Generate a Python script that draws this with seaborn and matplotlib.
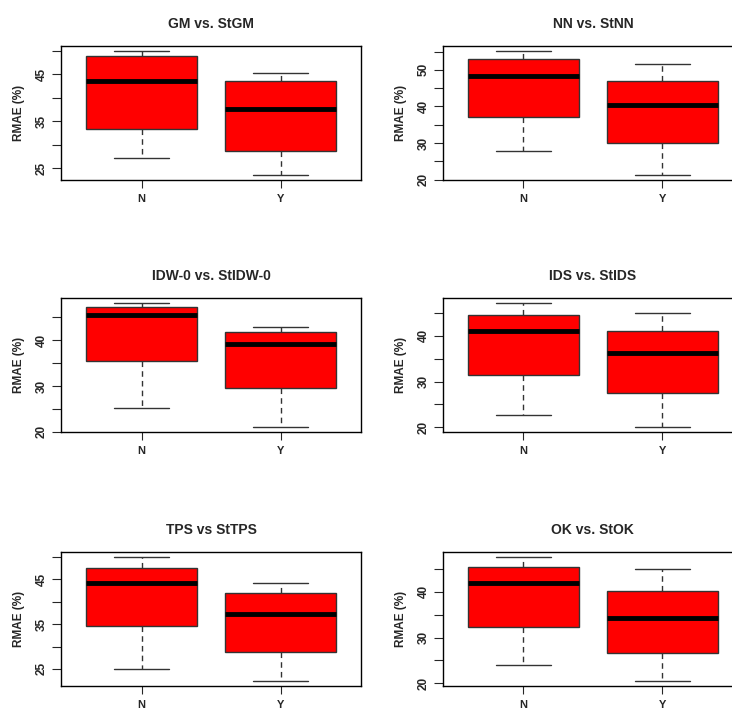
import numpy as np
import pandas as pd
import seaborn as sns
import matplotlib
matplotlib.use("Agg")
import matplotlib.pyplot as plt
from matplotlib.ticker import MultipleLocator, FuncFormatter

# five-number summaries (min, q1, median, q3, max)
titles = ["GM vs. StGM", "NN vs. StNN", "IDW-0 vs. StIDW-0",
          "IDS vs. StIDS", "TPS vs StTPS", "OK vs. StOK"]
groups = ["N", "Y"]

gm_n = [27.2, 33.3, 43.6, 48.8, 50.0]
gm_y = [23.6, 28.6, 37.7, 43.6, 45.3]
nn_n = [27.9, 37.1, 48.4, 53.0, 55.2]
nn_y = [21.3, 30.0, 40.4, 47.0, 51.5]
idw_n = [25.1, 35.4, 45.5, 47.1, 48.0]
idw_y = [21.0, 29.5, 39.2, 41.7, 42.9]
ids_n = [22.7, 31.5, 41.0, 44.6, 47.1]
ids_y = [20.0, 27.6, 36.2, 41.0, 44.9]
tps_n = [25.0, 34.5, 44.2, 47.5, 50.0]
tps_y = [22.3, 28.7, 37.3, 41.9, 44.2]
ok_n = [23.9, 32.3, 41.8, 45.5, 47.6]
ok_y = [20.5, 26.7, 34.2, 40.2, 44.9]

series = [(gm_n, gm_y), (nn_n, nn_y), (idw_n, idw_y),
          (ids_n, ids_y), (tps_n, tps_y), (ok_n, ok_y)]

# which y ticks carry a label (R drops the ones that would overlap)
labelled = [[25, 35, 45], [20, 30, 40, 50], [20, 30, 40],
            [20, 30, 40], [25, 35, 45], [20, 30, 40]]

sns.set_style("white")
plt.rcParams['font.family'] = ['Liberation Sans', 'DejaVu Sans']
plt.rcParams['font.weight'] = 'bold'

fig = plt.figure(figsize=(7.32, 7.11), dpi=100)

lefts = [0.0833, 0.605]
bottoms = [0.747, 0.392, 0.0352]
w, h = 0.41, 0.1885

for i, (title, (n_vals, y_vals)) in enumerate(zip(titles, series)):
    row, col = divmod(i, 2)
    ax = fig.add_axes([lefts[col], bottoms[row], w, h])
    df = pd.DataFrame({
        "group": [groups[0]] * len(n_vals) + [groups[1]] * len(y_vals),
        "value": n_vals + y_vals,
    })
    sns.boxplot(data=df, x="group", y="value", ax=ax, color="red",
                saturation=1, width=0.8, linecolor="#333333", linewidth=1,
                medianprops=dict(color="black", linewidth=3.5),
                whiskerprops=dict(linestyle=(0, (4, 3)), linewidth=1),
                capprops=dict(linewidth=1))

    lo = min(n_vals + y_vals)
    hi = max(n_vals + y_vals)
    pad = 0.04 * (hi - lo)
    ax.set_ylim(lo - pad, hi + pad)
    ax.set_xlim(-0.58, 1.58)

    lab = labelled[i]
    ax.yaxis.set_major_locator(MultipleLocator(5))
    ax.yaxis.set_major_formatter(
        FuncFormatter(lambda v, p, lab=lab: f"{v:.0f}" if round(v) in lab else ""))

    ax.tick_params(axis="y", direction="out", length=6.5, width=0.8,
                   labelsize=8.5, pad=3, left=True)
    ax.tick_params(axis="x", direction="out", length=6, width=0.8,
                   labelsize=8, pad=4, bottom=True)
    for t in ax.get_yticklabels():
        t.set_rotation(90)
        t.set_va("center")
        t.set_fontweight("bold")
    for t in ax.get_xticklabels():
        t.set_fontweight("bold")

    for s in ax.spines.values():
        s.set_visible(True)
        s.set_color("black")
        s.set_linewidth(1)

    ax.set_xlabel("")
    ax.set_ylabel("RMAE (%)", fontsize=8.5, fontweight="bold", labelpad=8)
    ax.set_title(title, fontsize=10, fontweight="bold", pad=13)

fig.savefig("out.png", dpi=100)
